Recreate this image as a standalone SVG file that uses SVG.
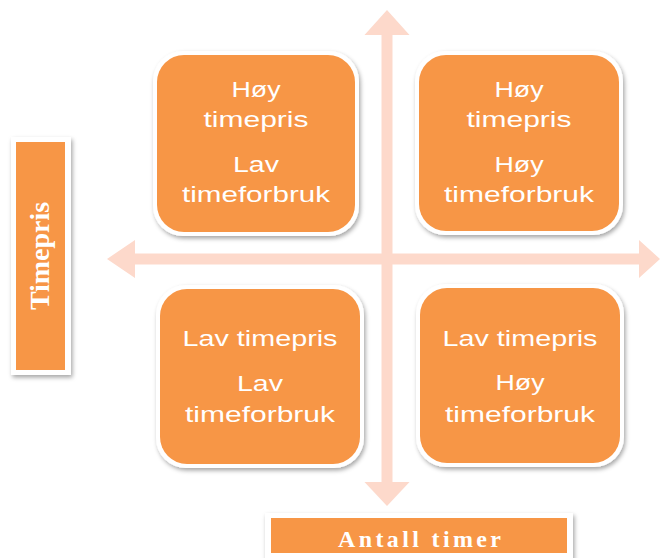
<svg xmlns="http://www.w3.org/2000/svg" width="662" height="558" viewBox="0 0 662 558">
<defs>
<filter id="sh" x="-20%" y="-20%" width="140%" height="140%">
<feDropShadow dx="1.5" dy="2.5" stdDeviation="2" flood-color="#000" flood-opacity="0.35"/>
</filter>
<style>
.frame{fill:#ffffff;filter:url(#sh)}
.box{fill:#F79646}
.t{font-family:"Liberation Sans",Arial,sans-serif;font-size:22px;fill:#ffffff;text-anchor:middle}
.lbl{font-family:"Liberation Serif","Times New Roman",serif;font-weight:bold;fill:#ffffff}
.arrow{fill:#FDD9CB}
</style>
</defs>
<rect width="662" height="558" fill="#ffffff"/>
<g id="connectors">
<polygon class="arrow" points="387,10 409.5,35 392.5,35 392.5,482 409.5,482 387,506 364.5,482 381.5,482 381.5,35 364.5,35"/>
<polygon class="arrow" points="107,259 135,240 135,253.5 639,253.5 639,240 660,259 639,278 639,264.5 135,264.5 135,278"/>
</g>
<g id="q-top-left">
<rect class="frame" x="153" y="51" width="206" height="185" rx="30"/>
<rect class="box" x="157" y="55" width="198" height="177" rx="27"/>
<text class="t" x="256" y="97" textLength="49" lengthAdjust="spacingAndGlyphs">Høy</text>
<text class="t" x="256" y="127" textLength="105" lengthAdjust="spacingAndGlyphs">timepris</text>
<text class="t" x="256" y="172" textLength="46" lengthAdjust="spacingAndGlyphs">Lav</text>
<text class="t" x="256" y="202" textLength="148" lengthAdjust="spacingAndGlyphs">timeforbruk</text>
</g>
<g id="q-top-right">
<rect class="frame" x="415" y="51" width="208" height="184" rx="30"/>
<rect class="box" x="419" y="55" width="200" height="176" rx="27"/>
<text class="t" x="519" y="97" textLength="49" lengthAdjust="spacingAndGlyphs">Høy</text>
<text class="t" x="519" y="127" textLength="105" lengthAdjust="spacingAndGlyphs">timepris</text>
<text class="t" x="519" y="172" textLength="49" lengthAdjust="spacingAndGlyphs">Høy</text>
<text class="t" x="519" y="202" textLength="150" lengthAdjust="spacingAndGlyphs">timeforbruk</text>
</g>
<g id="q-bottom-left">
<rect class="frame" x="156" y="285" width="208" height="183" rx="30"/>
<rect class="box" x="160" y="289" width="200" height="175" rx="27"/>
<text class="t" x="260" y="346" textLength="155" lengthAdjust="spacingAndGlyphs">Lav timepris</text>
<text class="t" x="260" y="391" textLength="46" lengthAdjust="spacingAndGlyphs">Lav</text>
<text class="t" x="260" y="422" textLength="150" lengthAdjust="spacingAndGlyphs">timeforbruk</text>
</g>
<g id="q-bottom-right">
<rect class="frame" x="416" y="284" width="208" height="183" rx="30"/>
<rect class="box" x="420" y="288" width="200" height="175" rx="27"/>
<text class="t" x="520" y="346" textLength="155" lengthAdjust="spacingAndGlyphs">Lav timepris</text>
<text class="t" x="520" y="390" textLength="49" lengthAdjust="spacingAndGlyphs">Høy</text>
<text class="t" x="520" y="422" textLength="150" lengthAdjust="spacingAndGlyphs">timeforbruk</text>
</g>
<g id="label-timepris">
<rect class="frame" x="11" y="137" width="60" height="238"/>
<rect class="box" x="16" y="142" width="49" height="228"/>
<text class="lbl" font-size="27" text-anchor="middle" transform="translate(49,256) rotate(-90)" textLength="108" lengthAdjust="spacingAndGlyphs">Timepris</text>
</g>
<g id="label-antall">
<rect class="frame" x="265" y="513" width="308" height="50"/>
<rect class="box" x="271" y="518" width="296" height="35"/>
<text class="lbl" font-size="24" x="338" y="547" textLength="163" lengthAdjust="spacing">Antall timer</text>
</g>
</svg>
